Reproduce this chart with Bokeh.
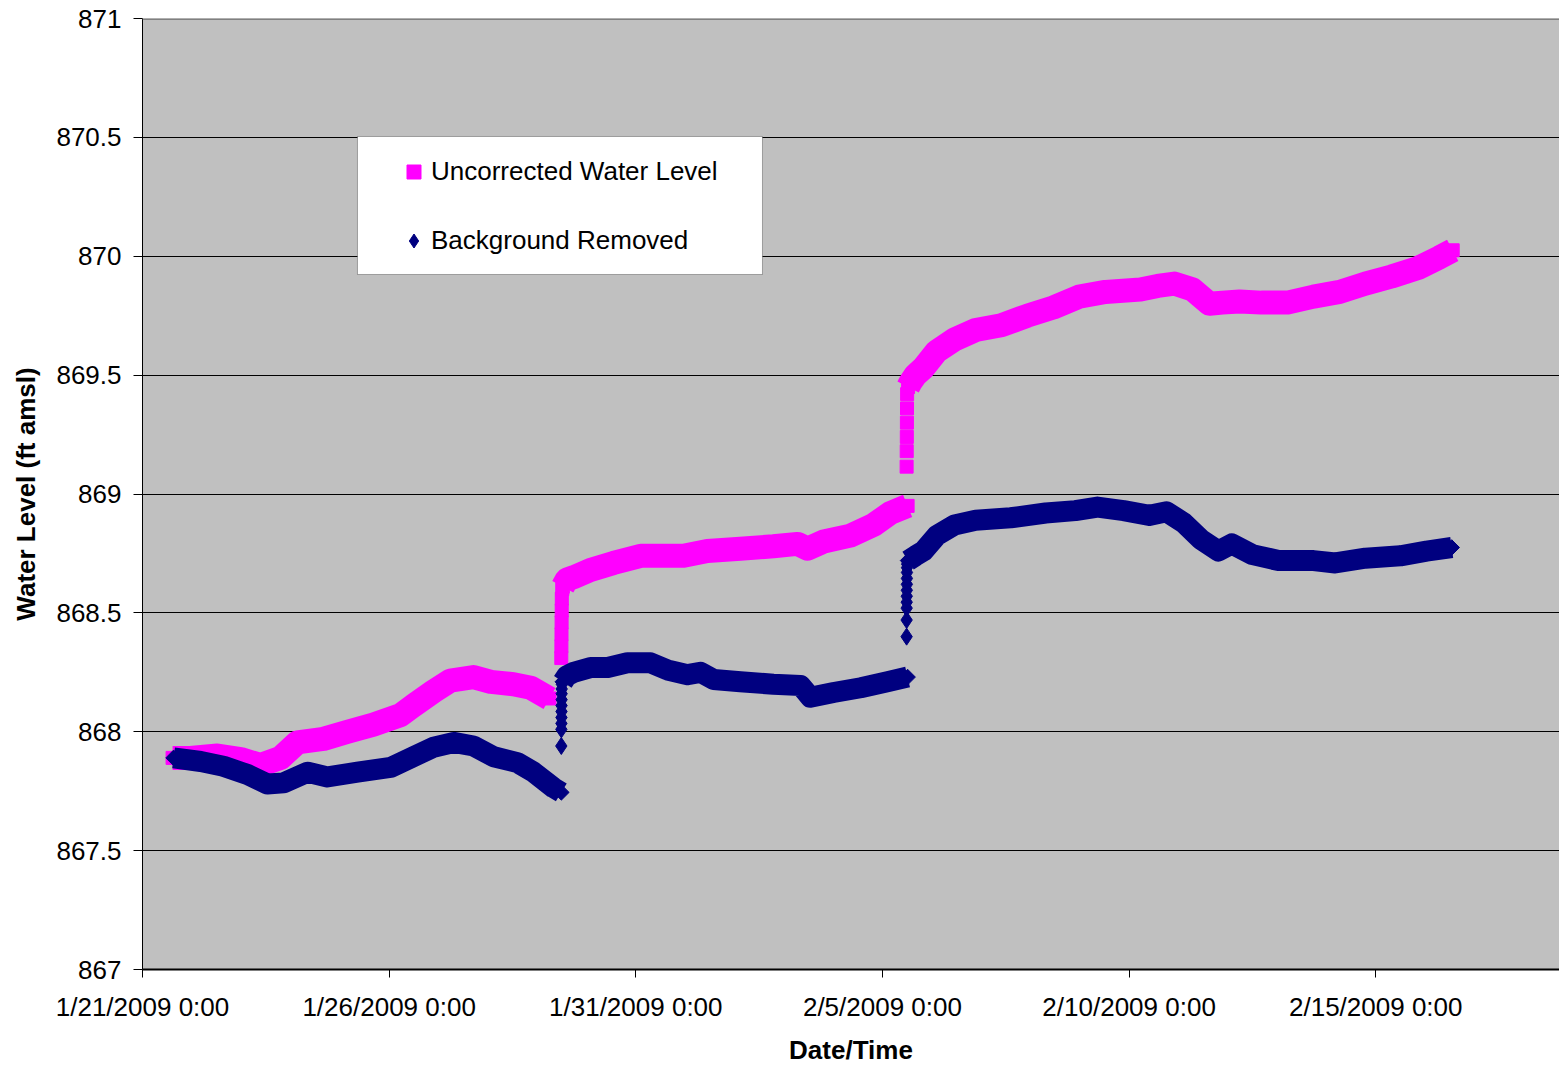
from datetime import datetime, timedelta

from bokeh.embed import file_html
from bokeh.models import (BoxAnnotation, FixedTicker, Legend, LegendItem,
                          Range1d, Span)
from bokeh.plotting import figure
from bokeh.resources import INLINE

START = datetime(2009, 1, 21)
FONT = "Liberation Sans"

# ---- data: days since 1/21/2009 0:00 and water level (ft amsl) ----
# Uncorrected water level
unc_a_day = [0.61, 0.97, 1.52, 1.99, 2.39, 2.80, 3.14, 3.67, 4.16, 4.68, 5.23,
             5.49, 5.90, 6.24, 6.71, 7.06, 7.52, 7.87, 8.25]
unc_a_ft = [867.89, 867.89, 867.90, 867.885, 867.86, 867.89, 867.955, 867.97,
            868.00, 868.03, 868.07, 868.11, 868.17, 868.215, 868.23, 868.21,
            868.20, 868.185, 868.14]
unc_rise1_day = [8.490, 8.492, 8.494, 8.496, 8.498, 8.500, 8.510]
unc_rise1_ft = [868.31, 868.36, 868.41, 868.46, 868.51, 868.56, 868.60]
unc_b_day = [8.52, 8.60, 8.74, 9.08, 9.55, 10.10, 10.56, 10.97, 11.45, 12.12,
             12.79, 13.28, 13.48, 13.81, 14.35, 14.82, 15.16, 15.51]
unc_b_ft = [868.61, 868.64, 868.65, 868.68, 868.71, 868.74, 868.74, 868.74,
            868.76, 868.77, 868.78, 868.79, 868.77, 868.80, 868.825, 868.87,
            868.92, 868.95]
unc_rise2_day = [15.490, 15.492, 15.494, 15.496, 15.498, 15.500]
unc_rise2_ft = [869.115, 869.18, 869.24, 869.30, 869.36, 869.42]
unc_c_day = [15.52, 15.57, 15.67, 15.83, 16.10, 16.46, 16.89, 17.41, 17.94,
             18.47, 18.99, 19.52, 20.23, 20.58, 20.92, 21.29, 21.63, 21.89,
             22.24, 22.68, 23.21, 23.74, 24.27, 24.79, 25.32, 25.85, 26.29,
             26.56]
unc_c_ft = [869.45, 869.47, 869.50, 869.53, 869.60, 869.65, 869.69, 869.71,
            869.75, 869.785, 869.83, 869.85, 869.86, 869.875, 869.885, 869.86,
            869.80, 869.805, 869.81, 869.805, 869.805, 869.83, 869.85, 869.885,
            869.915, 869.95, 869.995, 870.025]

# Background removed
bg_a_day = [0.63, 1.18, 1.64, 2.13, 2.53, 2.86, 3.35, 3.75, 4.36, 5.03, 5.49,
            5.90, 6.31, 6.71, 7.12, 7.60, 7.93, 8.33, 8.49]
bg_a_ft = [867.89, 867.875, 867.855, 867.82, 867.78, 867.785, 867.83, 867.81,
           867.83, 867.85, 867.895, 867.935, 867.955, 867.94, 867.895, 867.87,
           867.83, 867.765, 867.745]
bg_rise1_day = [8.490, 8.491, 8.492, 8.493, 8.494, 8.495, 8.496, 8.497, 8.498,
                8.500, 8.505]
bg_rise1_ft = [867.94, 868.01, 868.035, 868.06, 868.085, 868.11, 868.135,
               868.16, 868.18, 868.20, 868.21]
bg_b_day = [8.52, 8.60, 8.74, 9.08, 9.43, 9.83, 10.30, 10.64, 11.05, 11.31,
            11.58, 12.12, 12.79, 13.34, 13.54, 14.01, 14.56, 15.10, 15.51]
bg_b_ft = [868.21, 868.235, 868.25, 868.27, 868.27, 868.29, 868.29, 868.26,
           868.24, 868.25, 868.22, 868.21, 868.20, 868.195, 868.145, 868.165,
           868.185, 868.21, 868.23]
bg_rise2_day = [15.490, 15.490, 15.491, 15.492, 15.493, 15.494, 15.495, 15.496,
                15.497, 15.498, 15.500, 15.505]
bg_rise2_ft = [868.40, 868.47, 868.52, 868.545, 868.57, 868.595, 868.62,
               868.645, 868.67, 868.69, 868.705, 868.715]
bg_c_day = [15.52, 15.67, 15.83, 16.10, 16.46, 16.89, 17.60, 18.31, 18.91,
            19.36, 19.89, 20.41, 20.76, 21.10, 21.45, 21.81, 22.08, 22.50,
            23.03, 23.74, 24.18, 24.79, 25.50, 26.03, 26.54]
bg_c_ft = [868.72, 868.74, 868.76, 868.825, 868.87, 868.89, 868.90, 868.92,
           868.93, 868.945, 868.93, 868.91, 868.925, 868.88, 868.81, 868.76,
           868.79, 868.745, 868.72, 868.72, 868.71, 868.73, 868.74, 868.76,
           868.775]

# axis ticks
x_tick_dates = [datetime(2009, 1, 21), datetime(2009, 1, 26), datetime(2009, 1, 31),
                datetime(2009, 2, 5), datetime(2009, 2, 10), datetime(2009, 2, 15)]
x_tick_labels = ["1/21/2009 0:00", "1/26/2009 0:00", "1/31/2009 0:00",
                 "2/5/2009 0:00", "2/10/2009 0:00", "2/15/2009 0:00"]
y_ticks = [867, 867.5, 868, 868.5, 869, 869.5, 870, 870.5, 871]
y_tick_labels = ["867", "867.5", "868", "868.5", "869", "869.5", "870", "870.5", "871"]

PINK = "#FF00FF"
NAVY = "#000080"


def to_dt(days):
    return [START + timedelta(days=d) for d in days]


def to_ms(dt):
    return (dt - datetime(1970, 1, 1)).total_seconds() * 1000.0


p = figure(width=1559, height=1067, x_axis_type="datetime",
           output_backend="svg", toolbar_location=None,
           x_range=Range1d(START, START + timedelta(days=28.725)),
           y_range=Range1d(867, 871),
           min_border_left=142, min_border_right=0,
           min_border_top=18, min_border_bottom=98,
           background_fill_color="#C0C0C0", border_fill_color="white",
           outline_line_color=None)

# Uncorrected: square markers along a dense band
for days, ft in [(unc_a_day, unc_a_ft), (unc_b_day, unc_b_ft), (unc_c_day, unc_c_ft)]:
    p.line(to_dt(days), ft, line_color=PINK, line_width=24,
           line_join="round", line_cap="butt")
    p.scatter(to_dt(days), ft, marker="square", size=13,
              fill_color=PINK, line_color=PINK)
unc_key = None
for days, ft in [(unc_rise1_day, unc_rise1_ft), (unc_rise2_day, unc_rise2_ft)]:
    r = p.scatter(to_dt(days), ft, marker="square", size=13,
                  fill_color=PINK, line_color=PINK)
    unc_key = unc_key or r

# Background removed: diamond markers along a dense band
for days, ft in [(bg_a_day, bg_a_ft), (bg_b_day, bg_b_ft), (bg_c_day, bg_c_ft)]:
    p.line(to_dt(days), ft, line_color=NAVY, line_width=21,
           line_join="round", line_cap="butt")
    p.scatter(to_dt(days), ft, marker="square", size=11, angle=0.785398,
              fill_color=NAVY, line_color=NAVY)
bg_key = None
for days, ft in [(bg_rise1_day, bg_rise1_ft), (bg_rise2_day, bg_rise2_ft)]:
    r = p.scatter(to_dt(days), ft, marker="diamond", size=17,
                  fill_color=NAVY, line_color=NAVY)
    bg_key = bg_key or r

# axes
p.xaxis.ticker = FixedTicker(ticks=[to_ms(d) for d in x_tick_dates])
p.xaxis.major_label_overrides = {to_ms(d): lab for d, lab in zip(x_tick_dates, x_tick_labels)}
p.yaxis.ticker = FixedTicker(ticks=y_ticks)
p.yaxis.major_label_overrides = {t: lab for t, lab in zip(y_ticks, y_tick_labels)}

for ax in (p.xaxis[0], p.yaxis[0]):
    ax.major_label_text_font = FONT
    ax.major_label_text_font_size = "26px"
    ax.major_label_text_color = "black"
    ax.axis_label_text_font = FONT
    ax.axis_label_text_font_size = "26px"
    ax.axis_label_text_font_style = "bold"
    ax.axis_label_text_color = "black"
    ax.minor_tick_line_color = None
    ax.major_tick_in = 0
    ax.major_tick_line_color = "black"
    ax.axis_line_color = "black"

p.xaxis.axis_label = "Date/Time"
p.xaxis.major_tick_out = 8
p.xaxis.major_label_standoff = 14
p.xaxis.axis_label_standoff = 10
p.xaxis.axis_line_width = 2
p.yaxis.axis_label = "Water Level (ft amsl)"
p.yaxis.major_tick_out = 9
p.yaxis.major_label_standoff = 12
p.yaxis.axis_label_standoff = 12

p.xgrid.grid_line_color = None
p.ygrid.ticker = FixedTicker(ticks=y_ticks)
p.ygrid.grid_line_color = "black"
p.ygrid.grid_line_width = 1

p.add_layout(Span(location=871, dimension="width", line_color="#808080", line_width=3))

# legend frame and entries
p.add_layout(BoxAnnotation(left=START + timedelta(days=4.358),
                           right=START + timedelta(days=12.568),
                           top=870.5037, bottom=869.9233,
                           fill_color="white", fill_alpha=1.0,
                           line_color="black", line_width=1))
legend = Legend(items=[LegendItem(label="Uncorrected Water Level", renderers=[unc_key]),
                       LegendItem(label="Background Removed", renderers=[bg_key])],
                location=(254, 711), glyph_width=35, glyph_height=35,
                label_standoff=-8, spacing=34, padding=0, margin=0,
                background_fill_alpha=0, border_line_color=None,
                label_text_font=FONT, label_text_font_size="26px",
                label_text_color="black")
p.add_layout(legend)

open("out.html", "w").write(file_html(p, INLINE))
